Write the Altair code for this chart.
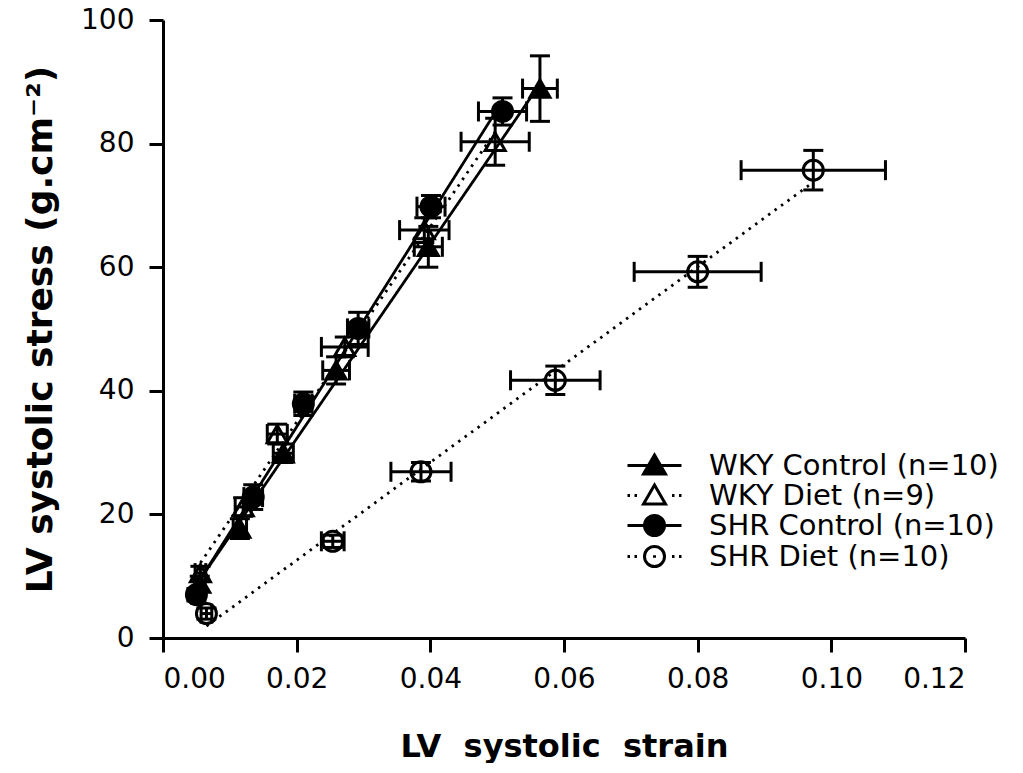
import altair as alt
import pandas as pd

series_names = ["WKY Control (n=10)", "WKY Diet (n=9)", "SHR Control (n=10)", "SHR Diet (n=10)"]

# WKY Control
wky_ctrl_strain = [0.0055, 0.0115, 0.0180, 0.0259, 0.0397, 0.0564]
wky_ctrl_stress = [8.8, 17.7, 29.9, 43.3, 63.3, 88.9]
wky_ctrl_strain_err = [0.0008, 0.0010, 0.0015, 0.0020, 0.0021, 0.0026]
wky_ctrl_stress_err = [1.2, 1.6, 1.5, 2.2, 3.3, 5.3]

# WKY Diet
wky_diet_strain = [0.0056, 0.0120, 0.0171, 0.0272, 0.0391, 0.0497]
wky_diet_stress = [10.5, 21.2, 33.0, 47.1, 66.0, 80.3]
wky_diet_strain_err = [0.0008, 0.0012, 0.0015, 0.0035, 0.0037, 0.0051]
wky_diet_stress_err = [1.1, 1.5, 1.6, 1.6, 2.0, 3.8]

# SHR Control
shr_ctrl_strain = [0.0050, 0.0135, 0.0210, 0.0292, 0.0401, 0.0508]
shr_ctrl_stress = [7.0, 22.8, 37.9, 50.1, 69.8, 85.2]
shr_ctrl_strain_err = [0.0007, 0.0014, 0.0013, 0.0016, 0.0021, 0.0036]
shr_ctrl_stress_err = [1.0, 2.0, 1.9, 2.6, 1.8, 2.2]

# SHR Diet
shr_diet_strain = [0.0065, 0.0254, 0.0386, 0.0587, 0.0800, 0.0973]
shr_diet_stress = [3.95, 15.65, 26.9, 41.7, 59.25, 75.7]
shr_diet_strain_err = [0.0008, 0.0017, 0.0045, 0.0067, 0.0095, 0.0108]
shr_diet_stress_err = [0.9, 1.0, 1.5, 2.3, 2.5, 3.2]

x_ticks = [0.0, 0.02, 0.04, 0.06, 0.08, 0.10, 0.12]
y_ticks = [0, 20, 40, 60, 80, 100]

groups = [
    (series_names[0], wky_ctrl_strain, wky_ctrl_stress, wky_ctrl_strain_err, wky_ctrl_stress_err),
    (series_names[1], wky_diet_strain, wky_diet_stress, wky_diet_strain_err, wky_diet_stress_err),
    (series_names[2], shr_ctrl_strain, shr_ctrl_stress, shr_ctrl_strain_err, shr_ctrl_stress_err),
    (series_names[3], shr_diet_strain, shr_diet_stress, shr_diet_strain_err, shr_diet_stress_err),
]
rows = []
for name, xs, ys, xe, ye in groups:
    for a, b, c, d in zip(xs, ys, xe, ye):
        rows.append(dict(series=name, strain=a, stress=b, xlo=a - c, xhi=a + c, ylo=b - d, yhi=b + d))
df = pd.DataFrame(rows)

FONT = "DejaVu Sans"
XS = alt.Scale(domain=[0, 0.12], nice=False, zero=False)
YS = alt.Scale(domain=[0, 100], nice=False, zero=False)

xaxis = alt.Axis(
    values=x_ticks, format=".2f", title="LV\u00a0\u00a0systolic\u00a0\u00a0strain",
    titleX=401, titleY=118, titleAlign="center", titleBaseline="alphabetic",
    titleFontSize=32, labelPadding=13,
)
yaxis = alt.Axis(
    values=y_ticks, format="d", title="LV systolic stress (g.cm\u207b\u00b2)",
    titleAngle=270, titleX=-123, titleY=309, titleAlign="center", titleBaseline="middle",
    titleFontSize=36, labelPadding=15,
)


def X(f):
    return alt.X(f, scale=XS, axis=xaxis)


def Y(f):
    return alt.Y(f, scale=YS, axis=yaxis)


base = alt.Chart(df)

lines = base.transform_regression(
    "strain", "stress", groupby=["series"]
).mark_line(color="black", strokeWidth=2.8).encode(
    x=X("strain:Q"),
    y=Y("stress:Q"),
    strokeDash=alt.StrokeDash(
        "series:N",
        scale=alt.Scale(domain=series_names, range=[[1, 0], [2.5, 5.5], [1, 0], [2.5, 5.5]]),
        legend=None,
    ),
    detail="series:N",
)

hbar = base.mark_rule(color="black", strokeWidth=3, opacity=1).encode(
    x=X("xlo:Q"), x2="xhi:Q", y=Y("stress:Q"),
)
vbar = base.mark_rule(color="black", strokeWidth=3, opacity=1).encode(
    x=X("strain:Q"), y=Y("ylo:Q"), y2="yhi:Q",
)
tick_kw = dict(size=20, thickness=3, color="black", opacity=1)
cap_l = base.mark_tick(orient="vertical", **tick_kw).encode(x=X("xlo:Q"), y=Y("stress:Q"))
cap_r = base.mark_tick(orient="vertical", **tick_kw).encode(x=X("xhi:Q"), y=Y("stress:Q"))
cap_b = base.mark_tick(orient="horizontal", **tick_kw).encode(x=X("strain:Q"), y=Y("ylo:Q"))
cap_t = base.mark_tick(orient="horizontal", **tick_kw).encode(x=X("strain:Q"), y=Y("yhi:Q"))

points = base.mark_point(size=400, strokeWidth=3, stroke="black", opacity=1).encode(
    x=X("strain:Q"),
    y=Y("stress:Q"),
    shape=alt.Shape("series:N", scale=alt.Scale(domain=series_names,
                    range=["triangle-up", "triangle-up", "circle", "circle"]), legend=None),
    fill=alt.Fill("series:N", scale=alt.Scale(domain=series_names,
                  range=["black", "transparent", "black", "transparent"]), legend=None),
)

# legend symbols: line sample + marker (unit = 10 px)
solid = "M-2.7,0H2.7"
dotted = "M-2.7,0H-2.45M-2.0,0H-1.75M1.75,0H2.0M2.45,0H2.7"
tri = "M0,-1.05L1.1,0.85L-1.1,0.85Z"
circ = "M1,0A1,1,0,1,1,-1,0A1,1,0,1,1,1,0Z"
legend_paths = [solid + tri, dotted + tri, solid + circ, dotted + circ + "M0,-0.12V0.12"]

leg = alt.Legend(
    orient="none", legendX=477, legendY=431, title=None,
    labelFont=FONT, labelFontSize=29, labelColor="black", labelLimit=500,
    symbolSize=400, symbolStrokeWidth=3, symbolStrokeColor="black", symbolOpacity=1,
    labelOffset=40, rowPadding=-3, padding=0,
)
leg_df = pd.DataFrame({"series": series_names})
legend_layer = alt.Chart(leg_df).transform_filter("false").mark_point(
    size=400, strokeWidth=3, opacity=1
).encode(
    shape=alt.Shape("series:N", scale=alt.Scale(domain=series_names, range=legend_paths), legend=leg),
    fill=alt.Fill("series:N", scale=alt.Scale(domain=series_names,
                  range=["black", "white", "black", "white"]), legend=leg),
    stroke=alt.Stroke("series:N", scale=alt.Scale(domain=series_names,
                      range=["black", "black", "black", "black"]), legend=leg),
)

chart = alt.layer(
    lines, hbar, vbar, cap_l, cap_r, cap_b, cap_t, points, legend_layer
).resolve_scale(
    shape="independent", fill="independent", strokeDash="independent", stroke="independent"
).properties(
    width=802, height=618,
    autosize=alt.AutoSizeParams(type="none"),
    padding={"left": 155, "top": 12, "right": 50, "bottom": 125},
).configure_view(stroke=None).configure_axis(
    domainColor="black", domainWidth=3, tickColor="black", tickWidth=3, tickSize=14,
    grid=False, labelFont=FONT, labelFontSize=28, labelColor="black",
    titleFont=FONT, titleFontWeight="bold", titleColor="black",
)

chart.save("out.html", embed_options={"renderer": "svg", "actions": False})
